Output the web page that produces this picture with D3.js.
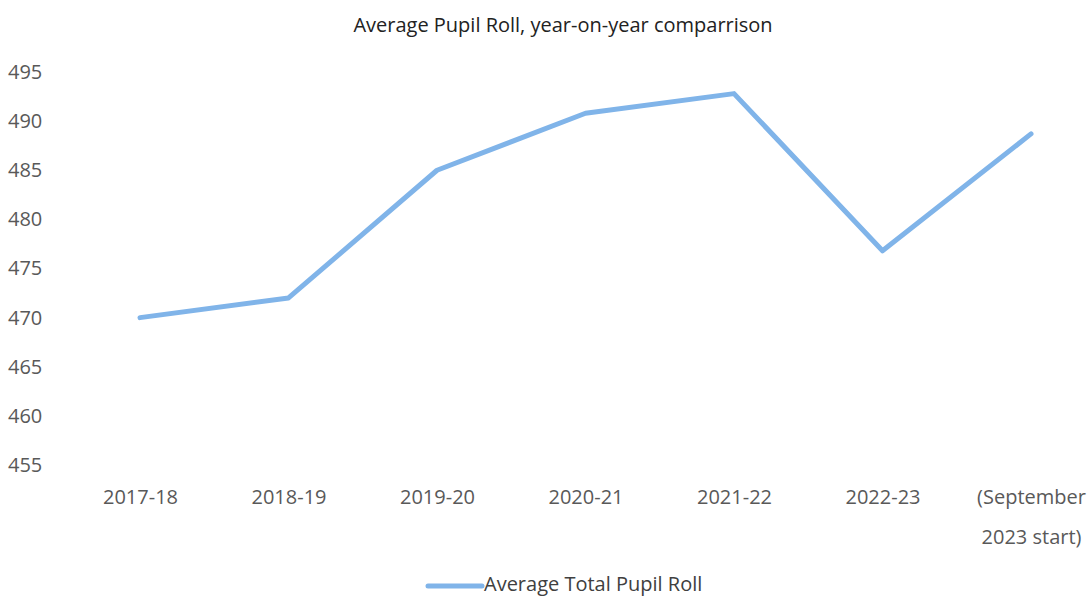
<!DOCTYPE html>
<html>
<head>
<meta charset="utf-8">
<script src="https://cdn.jsdelivr.net/npm/d3@7"></script>
<style>
  html, body { margin: 0; padding: 0; background: #fff; }
  svg { display: block; font-family: "Open Sans", "Noto Sans", sans-serif; }
</style>
</head>
<body>
<svg id="chart" width="1087" height="597"></svg>
<script>
// School years (last one is the September intake, split over two lines)
const years = ["2017-18", "2018-19", "2019-20", "2020-21", "2021-22", "2022-23", "(September\n2023 start)"];
// Average total pupil roll per year
const pupilRoll = [470, 472, 485, 490.8, 492.8, 476.8, 488.7];
// Y axis ticks
const yTicks = [455, 460, 465, 470, 475, 480, 485, 490, 495];

const chartTitle = "Average Pupil Roll, year-on-year comparrison";
const seriesName = "Average Total Pupil Roll";

const svg = d3.select("#chart");
const lineColor = "#80b4e9";
const textColor = "#595959";
const fontStack = "'Open Sans', 'Noto Sans', sans-serif";

const x = d3.scalePoint().domain(years).range([140, 1031]);
const y = d3.scaleLinear().domain([455, 495]).range([465, 72]);

// Title
svg.append("text")
  .attr("x", 563).attr("y", 32)
  .attr("text-anchor", "middle")
  .attr("font-size", 20)
  .attr("fill", "#222")
  .text(chartTitle);

// Y axis labels (no axis line, no gridlines)
const yAxis = d3.axisLeft(y).tickValues(yTicks).tickSize(0).tickPadding(0);
const yg = svg.append("g").attr("transform", "translate(8,0)").call(yAxis)
  .attr("font-family", fontStack).attr("font-size", 20);
yg.select(".domain").remove();
yg.selectAll("text")
  .attr("text-anchor", "start")
  .attr("fill", textColor);

// X axis labels
const xAxis = d3.axisBottom(x).tickSize(0).tickPadding(0).tickFormat(() => "");
const xg = svg.append("g").attr("transform", "translate(0,490)").call(xAxis)
  .attr("font-family", fontStack).attr("font-size", 20);
xg.select(".domain").remove();
xg.selectAll(".tick").each(function(d) {
  const t = d3.select(this).select("text")
    .attr("y", 14)
    .attr("dy", 0)
    .attr("fill", textColor);
  d.split("\n").forEach((part, i) => {
    t.append("tspan").attr("x", 0).attr("y", 14 + i * 40).text(part);
  });
});

// Series line
const line = d3.line()
  .x((d, i) => x(years[i]))
  .y(d => y(d));

svg.append("path")
  .datum(pupilRoll)
  .attr("fill", "none")
  .attr("stroke", lineColor)
  .attr("stroke-width", 5)
  .attr("stroke-linejoin", "round")
  .attr("stroke-linecap", "round")
  .attr("d", line);

// Legend
const legend = svg.append("g").attr("transform", "translate(0,586)");
legend.append("line")
  .attr("x1", 428).attr("x2", 482)
  .attr("y1", 0).attr("y2", 0)
  .attr("stroke", lineColor)
  .attr("stroke-width", 5)
  .attr("stroke-linecap", "round");
legend.append("text")
  .attr("x", 484).attr("y", 5)
  .attr("font-size", 20)
  .attr("fill", "#404040")
  .text(seriesName);
</script>
</body>
</html>
